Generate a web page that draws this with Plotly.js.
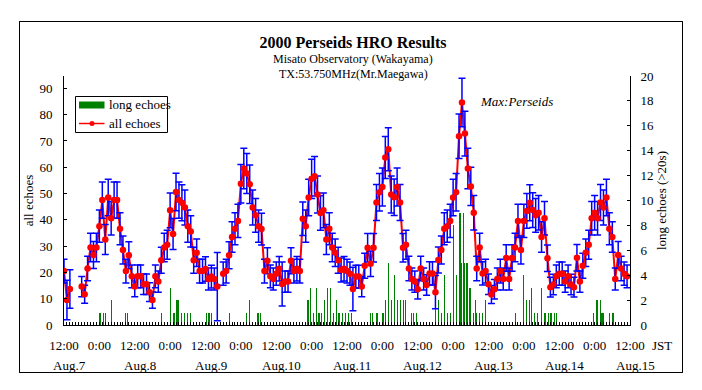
<!DOCTYPE html>
<html>
<head>
<meta charset="utf-8">
<script src="https://cdn.plot.ly/plotly-3.0.1.min.js"></script>
<style>
  html, body { margin: 0; padding: 0; background: #fff; }
  #chart { width: 702px; height: 390px; }
</style>
</head>
<body>
<div id="chart"></div>
<script>
// ---- DATA (hours counted from Aug.7 12:00 JST) ----
const allEchoes = [
  20.5, 9.5, 13.7, null, null, null, 14.6, 11.7, 21.5, 29.5,
  26.6, 29.5, 37.6, 47.5, 32.5, 48.5, 40.6, 47.5, 47.5, 36.6,
  28.5, 20.5, 26.5, 18.5, 14.6, 18.5, 18.5, 15.5, 15.5, 12.5,
  9.5, 18.5, 16.5, 24.6, 29.5, 30.5, 43.6, 34.6, 50.6, 47.5,
  46.5, 44.7, 37.6, 35.6, 24.6, 27.5, 20.5, 20.5, 21.3, 17.5,
  18.4, 17.5, 14.6, null, 19.5, 20.5, 26.5, 33.5, 36.6, 39.6,
  53.7, 59.5, 57.6, 53.5, 44.7, 41.7, 37.6, 36.5, 20.5, 24.4,
  18.5, 17.5, 19.5, 21.4, 15.6, 16.5, 16.5, 24.4, 20.5, 21.4,
  20.5, 40.4, 37.6, 48.5, 55.6, 56.6, 49.6, 42.6, 43.6, 32.5,
  36.6, 29.5, 27.5, 24.6, 20.9, 21.4, 20.5, 19.5, 13.7, 18.4,
  18.4, 14.6, 22.5, 29.4, 23.3, 29.4, 46.6, 50.5, 52.5, 63.7,
  66.8, 49.6, 48.6, 52.5, 46.6, 29.4, 30.5, 21.5, 17.5, 16.5,
  13.6, 21.5, 17.5, 15.2, 19.6, 19.6, 12.5, 24.7, 28.5, 36.6,
  37.6, 39.6, 48.5, 50.5, 71.8, 84.6, 72.8, 59.5, 52.7, 42.7,
  21.5, 29.5, 19.6, 20.5, 15.5, 11.6, 13.6, 17.5, 20.5, 17.5,
  25.5, 17.5, 25.5, 29.5, 39.6, 28.5, 39.6, 43.4, 46.5, 43.7,
  41.7, 42.7, 33.5, 40.6, 25.4, 14.4, 15.4, 18.5, 19.5, 19.5,
  16.5, 18.5, 15.4, 14.4, 25.6, 16.5, 22.5, 27.5, 30.5, 40.6,
  42.7, 40.6, 46.6, 44.7, 48.5, 36.6, 33.5, 17.5, 26.6, 21.5,
  19.5, 18.5
];
const hours = allEchoes.map((v, i) => i);

// hours with partial coverage -> larger error bars
const wideErrHours = [1, 2, 52, 74, 98, 126];
const wideErrValues = [7.5, 7.3, 13, 8.4, 8.3, 6.3];

// long echoes (>20s), half-hour bins
const longHours = [
  12, 12.5, 13.5, 14, 16, 21, 21.5,
  33, 36, 37, 37.5, 38, 38.5, 39, 40, 41, 42, 43,
  48.5, 49, 49.5, 50, 56,
  62, 63, 65.5, 66, 66.5,
  82.5, 83, 83.5, 84.5, 85.5, 86.5, 87.5, 88.5, 89.5, 90.5, 91.5, 92.5, 93, 93.5, 94.5, 95.5, 96.5, 97.5,
  104, 104.5, 106, 106.5, 108, 108.5, 109, 110, 111, 112, 113, 114, 115, 116, 118, 118.5, 119.5,
  126, 127, 128, 129, 130, 131, 132, 133, 134, 134.5, 135, 135.5, 136, 136.5, 137, 137.5, 138, 139, 139.5, 140, 141, 142, 143,
  153, 156, 157, 158, 158.5, 159.5, 160.5, 162, 163, 163.5, 164.5, 165, 165.5, 166.5, 167,
  179.5, 180.5, 181, 182, 182.5, 183, 185, 186, 186.5
];
const longCounts = [
  1, 1, 1, 1, 2, 1, 1,
  1, 3, 1, 1, 2, 2, 2, 1, 1, 1, 1,
  1, 1, 1, 1, 1,
  1, 2, 1, 1, 1,
  2, 2, 3, 1, 3, 1, 1, 2, 3, 3, 1, 2, 1, 1, 1, 1, 1, 1,
  1, 1, 1, 1, 1, 1, 2, 5, 2, 4, 2, 2, 2, 2, 1, 1, 1,
  2, 2, 1, 4, 1, 1, 8, 4, 9, 9, 5, 9, 5, 5, 5, 3, 3, 1, 2, 1, 1, 1, 2,
  1, 4, 2, 2, 3, 1, 1, 3, 1, 1, 1, 1, 1, 1, 1,
  1, 2, 2, 2, 1, 1, 1, 1, 1
];

const tickHours = [0, 12, 24, 36, 48, 60, 72, 84, 96, 108, 120, 132, 144, 156, 168, 180, 192];
const tickLabels = ['12:00', '0:00', '12:00', '0:00', '12:00', '0:00', '12:00', '0:00', '12:00',
                    '0:00', '12:00', '0:00', '12:00', '0:00', '12:00', '0:00', '12:00'];
const dateHours = [0, 24, 48, 72, 96, 120, 144, 168, 192];
const dateLabels = ['Aug.7', 'Aug.8', 'Aug.9', 'Aug.10', 'Aug.11', 'Aug.12', 'Aug.13', 'Aug.14', 'Aug.15'];

const titleText = '2000 Perseids HRO Results';
const subtitle1 = 'Misato Observatory (Wakayama)';
const subtitle2 = 'TX:53.750MHz(Mr.Maegawa)';
const noteText = 'Max:Perseids';

// ---- LAYOUT HELPERS (pixel -> paper); the paper area is the framed box ----
const W = 702, H = 390;
const FR = { l: 19, r: 683, t: 21, b: 373 };          // outer frame
const M = { l: FR.l, r: W - FR.r, t: FR.t, b: H - FR.b };
const PW = FR.r - FR.l, PH = FR.b - FR.t;
const px = x => (x - FR.l) / PW;
const py = y => (FR.b - y) / PH;
const PLOT = { l: 64, r: 630, t: 76, b: 325 };       // axes box

const FONT = 'Liberation Serif, Times New Roman, serif';
const RED = '#ff0000', BLUE = '#0000ff', GREEN = '#008000';

const isWide = new Set(wideErrHours);
const normY = allEchoes.map((v, i) => isWide.has(i) ? null : v);
const wideY = wideErrHours.map(h => allEchoes[h]);

// frame outline, drawn on a hidden full-paper axis pair measured in pixels
const frameX = [FR.l + 0.5, FR.r - 0.5, FR.r - 0.5, FR.l + 0.5, FR.l + 0.5];
const frameY = [FR.t + 0.5, FR.t + 0.5, FR.b - 0.5, FR.b - 0.5, FR.t + 0.5];

const traces = [
  { type: 'bar', x: longHours, y: longCounts, width: 0.34, yaxis: 'y',
    marker: { color: GREEN, line: { width: 0 } }, name: 'long echoes', showlegend: false },
  { type: 'scatter', mode: 'lines', x: hours, y: allEchoes, yaxis: 'y2', connectgaps: false,
    line: { color: RED, width: 2 }, showlegend: false, hoverinfo: 'skip' },
  { type: 'scatter', mode: 'markers', x: hours, y: normY, yaxis: 'y2',
    marker: { size: 1, color: 'rgba(0,0,0,0)' },
    error_y: { type: 'sqrt', color: BLUE, thickness: 1.5, width: 3.5 }, showlegend: false },
  { type: 'scatter', mode: 'markers', x: wideErrHours, y: wideY, yaxis: 'y2',
    marker: { size: 1, color: 'rgba(0,0,0,0)' },
    error_y: { type: 'data', array: wideErrValues, symmetric: true, color: BLUE, thickness: 1.5, width: 3.5 },
    showlegend: false },
  { type: 'scatter', mode: 'markers', x: hours, y: allEchoes, yaxis: 'y2',
    marker: { size: 6.5, color: RED }, name: 'all echoes', showlegend: false },
  { type: 'scatter', mode: 'lines', x: frameX, y: frameY, xaxis: 'x2', yaxis: 'y3',
    line: { color: '#000', width: 1 }, cliponaxis: false, showlegend: false, hoverinfo: 'skip' }
];

const txt = (size) => ({ family: FONT, size: size, color: '#000' });
const annotations = [
  { text: subtitle1, xref: 'paper', yref: 'paper', x: px(353), y: py(59), showarrow: false,
    xanchor: 'center', yanchor: 'middle', font: txt(12) },
  { text: subtitle2, xref: 'paper', yref: 'paper', x: px(353), y: py(74), showarrow: false,
    xanchor: 'center', yanchor: 'middle', font: txt(12) },
  { text: '<i>' + noteText + '</i>', xref: 'paper', yref: 'paper', x: px(516), y: py(101), showarrow: false,
    xanchor: 'center', yanchor: 'middle', font: txt(13) },
  { text: 'JST', xref: 'paper', yref: 'paper', x: px(662), y: py(345), showarrow: false,
    xanchor: 'center', yanchor: 'middle', font: txt(13) },
  { text: 'long echoes', xref: 'paper', yref: 'paper', x: px(107), y: py(104.5), showarrow: false,
    xanchor: 'left', yanchor: 'middle', font: txt(13) },
  { text: 'all echoes', xref: 'paper', yref: 'paper', x: px(107), y: py(123.5), showarrow: false,
    xanchor: 'left', yanchor: 'middle', font: txt(13) }
];
dateHours.forEach((h, i) => annotations.push({
  text: dateLabels[i], xref: 'x', yref: 'paper', x: h, y: py(365), xshift: 5, showarrow: false,
  xanchor: 'center', yanchor: 'middle', font: txt(13)
}));

const shapes = [
  // outer frame
  { type: 'rect', xref: 'paper', yref: 'paper', x0: px(19.5), x1: px(682.5), y0: py(372.5), y1: py(21.5),
    line: { color: '#000', width: 1 }, fillcolor: 'rgba(0,0,0,0)', layer: 'above' },
  // legend box
  { type: 'rect', xref: 'paper', yref: 'paper', x0: px(75.5), x1: px(167.5), y0: py(132.5), y1: py(96.5),
    line: { color: '#000', width: 1 }, fillcolor: '#fff', layer: 'above' },
  { type: 'rect', xref: 'paper', yref: 'paper', x0: px(79), x1: px(104.5), y0: py(108.5), y1: py(101.5),
    line: { width: 0 }, fillcolor: GREEN, layer: 'above' },
  { type: 'line', xref: 'paper', yref: 'paper', x0: px(79), x1: px(104.5), y0: py(123.5), y1: py(123.5),
    line: { color: RED, width: 1.5 }, layer: 'above' },
  { type: 'circle', xref: 'paper', yref: 'paper', x0: px(89.5), x1: px(94.5), y0: py(126), y1: py(121),
    line: { width: 0 }, fillcolor: RED, layer: 'above' }
];

const axisFont = txt(13);

const layout = {
  width: W, height: H,
  margin: M,
  paper_bgcolor: '#fff', plot_bgcolor: 'rgba(0,0,0,0)',
  showlegend: false,
  bargap: 0,
  title: { text: '<b>' + titleText + '</b>', font: txt(16),
           xref: 'container', yref: 'container', x: 353 / W, y: 1 - 42 / H, xanchor: 'center', yanchor: 'middle' },
  xaxis: {
    domain: [px(PLOT.l), px(PLOT.r)], anchor: 'y',
    range: [0, 192], tickmode: 'array', tickvals: tickHours, ticktext: tickLabels,
    ticks: 'inside', ticklen: 3, tickwidth: 1, tickcolor: '#000',
    minor: { dtick: 1, tick0: 0, ticks: 'inside', ticklen: 3, tickwidth: 1, tickcolor: '#000', showgrid: false },
    showline: true, linecolor: '#000', linewidth: 1, showgrid: false, zeroline: false,
    tickfont: axisFont, ticklabelstandoff: 8, fixedrange: true
  },
  yaxis: {
    domain: [py(PLOT.b), py(PLOT.t)], anchor: 'x',
    range: [0, 20], side: 'right', dtick: 2, tick0: 0,
    ticks: 'inside', ticklen: 3, tickcolor: '#000',
    showline: true, linecolor: '#000', linewidth: 1, showgrid: false, zeroline: false,
    tickfont: axisFont, ticklabelstandoff: 7,
    title: { text: 'long echoes (>20s)', font: axisFont, standoff: 2 }
  },
  yaxis2: {
    range: [0, 94.7], side: 'left', overlaying: 'y', anchor: 'x', dtick: 10, tick0: 0,
    ticks: 'inside', ticklen: 3, tickcolor: '#000',
    showline: true, linecolor: '#000', linewidth: 1, showgrid: false, zeroline: false,
    tickfont: axisFont, ticklabelstandoff: 8,
    title: { text: 'all echoes', font: axisFont, standoff: 2 }
  },
  xaxis2: { domain: [0, 1], range: [FR.l, FR.r], anchor: 'y3', visible: false, fixedrange: true },
  yaxis3: { domain: [0, 1], range: [FR.b, FR.t], anchor: 'x2', visible: false, fixedrange: true },
  annotations: annotations,
  shapes: shapes
};

Plotly.newPlot('chart', traces, layout, { staticPlot: true, displayModeBar: false });
</script>
</body>
</html>
